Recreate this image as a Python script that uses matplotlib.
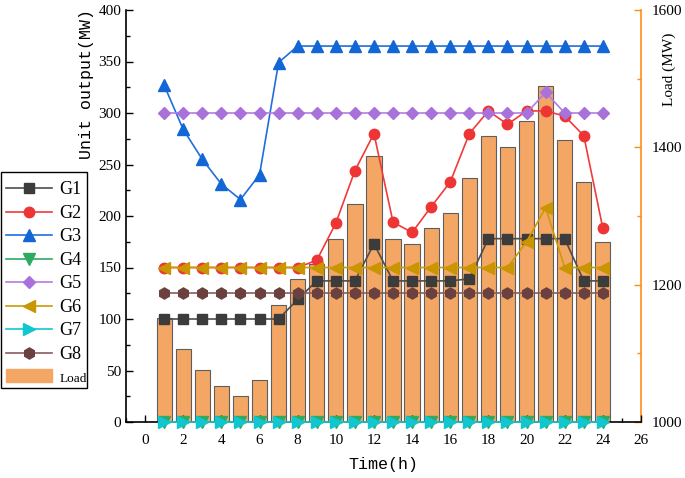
import matplotlib
matplotlib.use("Agg")
import matplotlib.pyplot as plt
from matplotlib.ticker import MultipleLocator
from matplotlib.patches import Patch, Rectangle

hours = list(range(1, 25))
G1 = [100, 100, 100, 100, 100, 100, 100, 119, 137, 137, 137, 173, 137, 137, 137, 137, 139, 178, 178, 178, 178, 178, 137, 137]
G2 = [150, 150, 150, 150, 150, 150, 150, 150, 157, 193, 244, 280, 194, 184, 209, 233, 280, 302, 289, 302, 302, 297, 278, 188]
G3 = [327, 284, 255, 231, 216, 240, 349, 365, 365, 365, 365, 365, 365, 365, 365, 365, 365, 365, 365, 365, 365, 365, 365, 365]
G4 = [0] * 24
G5 = [300] * 20 + [320, 300, 300, 300]
G6 = [150] * 19 + [175, 208, 150, 150, 150]
G7 = [0] * 24
G8 = [125] * 24
load = [1151, 1106, 1076, 1052, 1038, 1061, 1171, 1208, 1230, 1266, 1317, 1388,
        1267, 1259, 1282, 1305, 1355, 1416, 1401, 1439, 1490, 1410, 1350, 1262]

serif = "Liberation Serif"
mono = "Liberation Mono"

W, H = 685, 478
fig = plt.figure(figsize=(W / 100, H / 100), dpi=100)
ax = fig.add_axes([126/W, 1-422/H, (641-126)/W, (422-10)/H])
ax2 = ax.twinx()

bar_color = "#F4A764"
ax2.bar(hours, load, width=0.8, color=bar_color, edgecolor="#5e5e5e", linewidth=0.8, zorder=2)
ax2.set_ylim(1000, 1600)
ax2.yaxis.set_major_locator(MultipleLocator(200))
ax2.yaxis.set_minor_locator(MultipleLocator(100))
ax2.set_ylabel("Load (MW)", fontfamily=serif, fontsize=11)
ax2.yaxis.set_label_coords(1.042, 0.857)

series = [
    ("G1", G1, "#4D4D4D", "#3C3C3C", "s", 6.5),
    ("G2", G2, "#F23A3A", "#EE3535", "o", 7.5),
    ("G3", G3, "#1F6FDB", "#1366D6", "^", 8),
    ("G4", G4, "#2EAA62", "#2EAA62", "v", 8),
    ("G5", G5, "#B57BE0", "#A972DB", "D", 6.5),
    ("G6", G6, "#CC9A06", "#C99500", "<", 8),
    ("G7", G7, "#14C5CC", "#10C6D0", ">", 8),
    ("G8", G8, "#8A5C5C", "#6B4140", "h", 8),
]
handles = []
for name, vals, lc, mc, mk, ms in series:
    h, = ax.plot(hours, vals, color=lc, marker=mk, markersize=ms, markerfacecolor=mc,
                 markeredgecolor=mc, linewidth=1.2, label=name, zorder=3, clip_on=False)
    handles.append(h)
handles.append(Patch(facecolor=bar_color, edgecolor=bar_color, label="Load"))

ax.set_zorder(ax2.get_zorder() + 1)
ax.patch.set_visible(False)

ax.set_xlim(-1, 26)
ax.set_ylim(0, 400)
ax.xaxis.set_major_locator(MultipleLocator(2))
ax.xaxis.set_minor_locator(MultipleLocator(1))
ax.yaxis.set_major_locator(MultipleLocator(50))
ax.yaxis.set_minor_locator(MultipleLocator(25))
ax.set_xlabel("Time(h)", fontfamily=mono, fontsize=12, labelpad=7)
ax.set_ylabel("Unit output(MW)", fontfamily=mono, fontsize=12)
ax.yaxis.set_label_coords(-0.062, 0.82)

for a in (ax, ax2):
    a.spines["top"].set_visible(False)
    for lbl in a.get_xticklabels() + a.get_yticklabels():
        lbl.set_fontfamily(serif)
        lbl.set_fontsize(11)

ax.tick_params(axis="both", which="major", direction="in", length=5, width=1)
ax.tick_params(axis="both", which="minor", direction="in", length=3, width=1)
ax.tick_params(axis="x", pad=9)
ax.spines["left"].set_linewidth(1.2)
ax.spines["bottom"].set_linewidth(1.2)
ax.spines["right"].set_visible(False)

orange = "#FF8C1A"
ax2.spines["right"].set_color(orange)
ax2.spines["right"].set_linewidth(1.2)
ax2.spines["left"].set_visible(False)
ax2.spines["bottom"].set_visible(False)
ax2.tick_params(axis="y", which="major", direction="in", length=5, width=1, color=orange, pad=8)
ax2.tick_params(axis="y", which="minor", direction="in", length=3, width=1, color=orange)

leg = fig.legend(handles=handles, loc="upper left", bbox_to_anchor=(1/W, 1-176/H),
                 prop={"family": serif, "size": 13}, frameon=False,
                 labelspacing=0.36, handlelength=2.5,
                 handletextpad=0.45, borderpad=0.3, borderaxespad=0)
for t in leg.get_texts():
    if t.get_text() == "Load":
        t.set_fontsize(9.5)
fig.patches.append(Rectangle((1/W, 1-388/H), 86/W, 216/H, transform=fig.transFigure,
                             fill=False, edgecolor="black", linewidth=1.0, zorder=10))

fig.savefig("out.png", dpi=100)
